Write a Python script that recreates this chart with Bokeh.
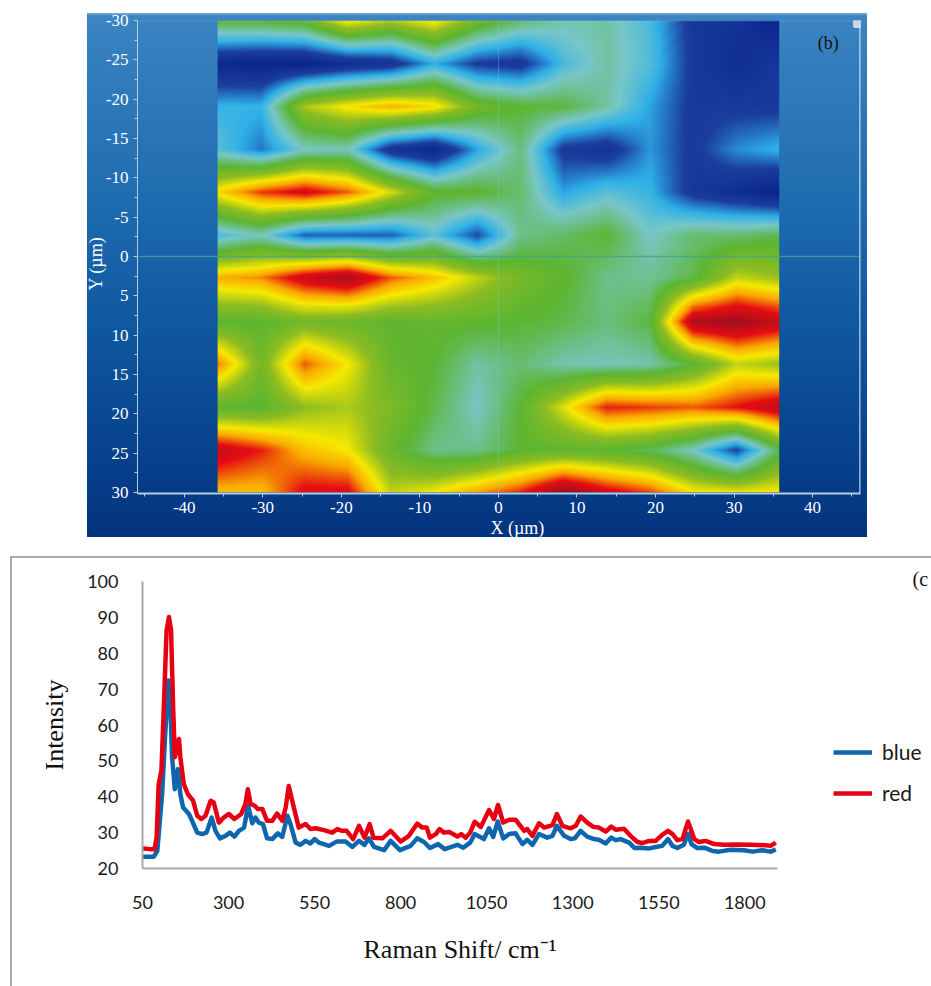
import numpy as np
from bokeh.embed import file_html
from bokeh.models import FixedTicker, Label, Legend, LegendItem, LinearColorMapper, Range1d, Span, Title
from bokeh.plotting import figure
from bokeh.resources import INLINE

# ---------- panel (b): Raman map ----------
map_x = [-35.75, -30.25, -24.75, -19.25, -13.75, -8.25, -2.75, 2.75, 8.25, 13.75, 19.25, 24.75, 30.25, 35.75]
map_y = [-30, -24.55, -19.1, -13.6, -8.2, -2.7, 2.7, 8.2, 13.6, 19.1, 24.55, 30]
map_rows = [
    [4.5, 4.5, 4.8, 6.6, 5.8, 6.6, 5.0, 4.0, 3.5, 3.6, 2.8, 1.2, 0.9, 0.2],
    [0.4, 0.3, 0.2, 0.7, 1.0, 2.5, 1.4, 1.2, 2.8, 3.6, 2.9, 1.3, 0.7, 1.2],
    [2.6, 2.6, 5.8, 6.6, 7.2, 6.7, 5.0, 4.5, 4.4, 3.6, 2.4, 1.3, 1.3, 1.3],
    [3.0, 2.0, 3.3, 3.4, 1.0, 0.4, 2.4, 3.9, 1.3, 1.0, 2.3, 1.3, 2.2, 2.6],
    [6.7, 8.0, 8.6, 7.8, 6.2, 4.6, 4.6, 4.0, 2.4, 3.0, 2.6, 1.2, 0.7, 0.1],
    [2.8, 3.4, 1.8, 1.8, 1.8, 3.0, 1.6, 3.8, 4.1, 4.5, 3.3, 4.0, 4.0, 4.3],
    [7.2, 7.5, 8.8, 9.4, 7.8, 7.0, 6.0, 5.0, 4.6, 3.8, 3.7, 4.3, 6.0, 5.6],
    [4.5, 4.5, 5.0, 4.8, 4.6, 4.7, 4.6, 4.5, 4.3, 3.9, 4.4, 9.3, 9.6, 8.9],
    [7.6, 5.0, 7.8, 6.5, 4.7, 4.5, 3.6, 4.0, 3.5, 3.4, 3.5, 4.5, 6.0, 5.6],
    [4.5, 4.5, 5.5, 5.8, 5.2, 4.3, 3.3, 4.5, 6.3, 8.2, 8.0, 7.8, 8.3, 9.0],
    [8.9, 8.2, 7.0, 6.5, 4.8, 3.8, 3.8, 4.5, 4.6, 4.5, 4.2, 3.3, 1.5, 4.3],
    [7.0, 7.0, 8.5, 8.5, 6.0, 6.5, 7.4, 8.2, 9.8, 8.7, 8.0, 6.6, 6.5, 6.6],
]
map_levels = [0, 1.5, 2.5, 3.3, 4.5, 5.5, 6.5, 7.3, 8.3, 10]
map_colors = ["#08218a", "#1b3e9e", "#2fb0e8", "#78c7c8", "#5cb531", "#8cbc22", "#f6e900", "#f9a800", "#e60d12", "#8a0f24"]
b_x_ticks = [-40, -30, -20, -10, 0, 10, 20, 30, 40]
b_x_minor = [-45, -35, -25, -15, -5, 5, 15, 25, 35, 45]
b_y_ticks = [-30, -25, -20, -15, -10, -5, 0, 5, 10, 15, 20, 25, 30]
b_y_minor = [-27.5, -22.5, -17.5, -12.5, -7.5, -2.5, 2.5, 7.5, 12.5, 17.5, 22.5, 27.5]

# ---------- panel (c): spectra ----------
red_x = [51, 73, 85, 91, 97, 105, 112, 120, 127, 133, 139, 144, 156, 160, 170, 182, 197, 209, 221, 233, 248, 257, 272, 286, 301, 317, 337, 349, 356, 364, 376, 385, 398, 412, 427, 441, 456, 466, 475, 485, 504, 524, 538, 553, 577, 601, 616, 630, 643, 662, 679,
         695, 710, 721, 747, 771, 800, 824, 848, 863, 876, 885, 902, 913, 926, 941, 965, 976, 989, 1002, 1015, 1033, 1057, 1071, 1083, 1098, 1115, 1134, 1159, 1168, 1183, 1202, 1217, 1241, 1254, 1270, 1294,
         1309, 1323, 1342, 1360, 1376, 1396, 1412, 1425, 1449, 1468, 1488, 1502, 1522, 1541, 1560, 1577, 1590, 1604, 1619, 1628, 1635, 1643, 1653, 1667, 1686, 1711, 1740, 1778, 1817, 1861, 1875, 1890]
red_y = [25.6, 25.4, 25.4, 28.6, 43.5, 47.3, 65, 86.4, 90.1, 86.4, 65, 51, 56.1, 51, 43.5, 40.7, 38.9, 34.7, 33.8, 34.7, 38.9, 38.4, 32.8, 34.2, 35.2, 33.8, 35.2, 38, 42.1, 38, 37.5, 36.6, 36.6, 33.3, 33.3, 35.3, 33.3, 37, 43, 38.9, 31.4, 32.4, 31, 31.2, 30.7, 30, 31, 30.5, 30.5, 28.2, 31.9,
         28.6, 32.4, 28.6, 28.4, 30.5, 27.5, 29.1, 32.5, 31.4, 31.4, 28.6, 29.6, 31, 30, 30.2, 28.9, 29.6, 28.6, 30, 33, 31.6, 36.3, 33.8, 37.7, 32.8, 33.6, 33.6, 30.5, 31, 29.1, 32.6, 31.4, 32.1, 35.2, 31.9, 31.2,
         31.9, 34.5, 32.8, 31.6, 31.4, 30.3, 31.7, 30.8, 31.1, 29.1, 27.4, 27.1, 27.7, 27.7, 29.4, 30.5, 29.6, 27.9, 28.2, 31, 33.1, 31, 28.2, 27.4, 27.7, 26.8, 26.6, 26.7, 26.6, 26.5, 26.3, 27.2]
blue_x = [51, 83, 93, 107, 115, 125, 131, 136, 144, 153, 160, 168, 185, 194, 209, 223, 236, 251, 262, 275, 291, 304, 317, 330, 345, 357, 369, 378, 388, 400, 412, 427, 443, 456, 471, 480, 495, 509, 524, 538, 550, 563, 592, 614, 640, 660, 679,
          695, 708, 723, 752, 771, 798, 829, 848, 868, 885, 909, 928, 965, 982, 1002, 1015, 1042, 1057, 1069, 1082, 1098, 1115, 1134, 1154, 1168, 1183, 1202, 1226, 1241, 1254, 1275, 1294,
          1306, 1323, 1342, 1362, 1376, 1396, 1412, 1425, 1439, 1464, 1480, 1497, 1522, 1541, 1560, 1577, 1590, 1604, 1623, 1635, 1645, 1662, 1682, 1706, 1725, 1759, 1798, 1822, 1851, 1875, 1890]
blue_y = [23.3, 23.3, 24.9, 40.7, 55.7, 72.4, 65, 51, 42.1, 47.7, 40.7, 37, 35.2, 33.3, 30, 29.6, 30, 34.2, 30.5, 28.4, 29.1, 30, 28.9, 30.5, 31.4, 37.5, 32.6, 34.2, 32.8, 32.4, 28.4, 28.2, 29.8, 28.8, 34.7, 32.4, 27.2, 26.6, 27.7, 27, 28.2, 27.2, 26.3, 27.5, 27.5, 26, 27.7,
          26.6, 28.4, 26, 25.1, 27.7, 25.1, 26.3, 28.4, 27.4, 25.7, 26.8, 25.4, 26.6, 25.8, 27.2, 29.6, 28.2, 31.2, 28.8, 33.1, 28.4, 29.6, 29.8, 26.8, 28, 26.6, 29.6, 28.6, 29.1, 31.9, 29.1, 28.2,
          28.4, 30.5, 28.9, 28.2, 28, 27, 28.6, 27.9, 28.2, 27.2, 25.7, 25.8, 25.6, 26, 26.3, 28.2, 26.3, 25.7, 26.6, 29.7, 26.8, 25.7, 25.8, 24.9, 24.7, 25.2, 25.1, 24.7, 25.1, 24.7, 25.3]
c_x_ticks = [50, 300, 550, 800, 1050, 1300, 1550, 1800]
c_y_ticks = [20, 30, 40, 50, 60, 70, 80, 90, 100]

SERIF = "Liberation Serif"
AXIS = "#b4cde0"

# Resample the map grid to screen resolution (the instrument's own display is smoothed the same way)
fine_x = np.linspace(map_x[0], map_x[-1], 562)
fine_y = np.linspace(map_y[0], map_y[-1], 471)
grid = np.array(map_rows, dtype=float)
by_col = np.array([np.interp(fine_x, map_x, row) for row in grid])
Z = np.array([np.interp(fine_y, map_y, by_col[:, i]) for i in range(len(fine_x))]).T

stops = np.linspace(0, 10, 256)
rgb = np.array([[int(c[i:i + 2], 16) for i in (1, 3, 5)] for c in map_colors], dtype=float)
palette = ["#%02x%02x%02x" % tuple(int(round(np.interp(s, map_levels, rgb[:, k]))) for k in range(3)) for s in stops]

pb = figure(width=780, height=530, output_backend="svg", toolbar_location=None,
            x_range=Range1d(-45.95, 46.1), y_range=Range1d(30.15, -30.0),
            min_border_left=50, min_border_right=7, min_border_top=13, min_border_bottom=44,
            background_fill_color=None, border_fill_color=None, outline_line_color=None)
pb.margin = (7, 0, 0, 87)
pb.styles = {"background": "linear-gradient(180deg,#7fb0d6 0,#3c84c2 3px,#1f6cb0 35%,#0f57a0 60%,#03337f 100%) 0 6px/100% 524px no-repeat"}
pb.grid.visible = False
pb.image(image=[Z], x=map_x[0], y=map_y[0], dw=map_x[-1] - map_x[0], dh=map_y[-1] - map_y[0],
         color_mapper=LinearColorMapper(palette=palette, low=0, high=10))
pb.add_layout(Span(location=0, dimension="width", line_color="#3fa58e", line_width=1.5, line_alpha=0.8))
pb.add_layout(Span(location=0, dimension="height", line_color="#6fd0e8", line_width=1, line_alpha=0.35))
pb.add_layout(Span(location=-29.95, dimension="width", line_color=AXIS, line_width=1, line_alpha=0.3))
pb.add_layout(Span(location=46.05, dimension="height", line_color="#dbe8f0", line_width=1.5))
pb.scatter(x=[45.7], y=[-29.6], marker="square", size=7, fill_color="#c9d3dc", line_color="#f4f6f8", line_width=1)

for ax, major, minor in ((pb.xaxis, b_x_ticks, b_x_minor), (pb.yaxis, b_y_ticks, b_y_minor)):
    ax.ticker = FixedTicker(ticks=major, minor_ticks=minor)
    ax.major_label_overrides = {t: str(t) for t in major}
    ax.major_label_text_color = "#ffffff"
    ax.major_label_text_font = SERIF
    ax.major_label_text_font_size = "17px"
    ax.axis_line_color = AXIS
    ax.major_tick_line_color = AXIS
    ax.minor_tick_line_color = AXIS
    ax.major_tick_in = 0
    ax.major_tick_out = 4
    ax.minor_tick_in = 0
    ax.minor_tick_out = 3
pb.xaxis.axis_line_width = 2
pb.xaxis.major_label_standoff = 4
pb.yaxis.major_label_standoff = 5

pb.add_layout(Title(text="X (µm)", align="left", offset=353, standoff=0, text_color="#ffffff", text_font=SERIF,
                    text_font_size="18px", text_font_style="normal"), "below")
pb.add_layout(Title(text="Y (µm)", align="left", offset=203, standoff=-7, text_color="#ffffff", text_font=SERIF,
                    text_font_size="18px", text_font_style="normal"), "left")
pb.add_layout(Label(x=42, y=-27.2, text="(b)", text_color="#111111", text_font=SERIF, text_font_size="18px",
                    text_align="center", text_baseline="middle"))

pc = figure(frame_width=635, frame_height=287, output_backend="svg", toolbar_location=None,
            x_range=Range1d(50, 1895), y_range=Range1d(20, 100),
            min_border_left=142, min_border_right=154, min_border_top=25, min_border_bottom=118,
            background_fill_color=None, border_fill_color=None, outline_line_color=None)
pc.margin = (19, 0, 0, 0)
pc.styles = {"background": "linear-gradient(#aaaaaa,#aaaaaa) 10px 0/2px 100% no-repeat,"
                           "linear-gradient(#aaaaaa,#aaaaaa) 10px 0/100% 2px no-repeat,#ffffff"}
pc.grid.visible = False
line_blue = pc.line(blue_x, blue_y, line_color="#0e66ae", line_width=4.5, line_join="round")
line_red = pc.line(red_x, red_y, line_color="#e60012", line_width=4.5, line_join="round")

pc.xaxis.ticker = FixedTicker(ticks=c_x_ticks)
pc.yaxis.ticker = FixedTicker(ticks=c_y_ticks)
for ax in (pc.xaxis, pc.yaxis):
    ax.axis_line_color = "#aaaaaa"
    ax.axis_line_width = 2
    ax.major_tick_line_color = None
    ax.minor_tick_line_color = None
    ax.major_label_text_font = "Lato"
    ax.major_label_text_font_size = "18px"
    ax.major_label_text_color = "#1a1a1a"
    ax.axis_label_text_font = SERIF
    ax.axis_label_text_font_style = "normal"
    ax.axis_label_text_color = "#111111"
    ax.axis_label_text_font_size = "26px"
pc.xaxis.axis_label = "Raman Shift/ cm\u207b\u00b9"
pc.yaxis.axis_label = "Intensity"
pc.xaxis.major_label_standoff = 21
pc.yaxis.major_label_standoff = 18
pc.xaxis.axis_label_standoff = 23
pc.yaxis.axis_label_standoff = 15

legend = Legend(items=[LegendItem(label="blue", renderers=[line_blue]), LegendItem(label="red", renderers=[line_red])],
                location=(56, 63), margin=0, padding=0, spacing=16, glyph_width=39, glyph_height=20, label_height=20,
                label_standoff=10, border_line_color=None, background_fill_color=None,
                label_text_font="Lato", label_text_font_size="21px", label_text_color="#1a1a1a")
pc.add_layout(legend, "right")
pc.add_layout(Title(text="(c", align="left", offset=770, standoff=-16, text_color="#111111", text_font=SERIF,
                    text_font_size="20px", text_font_style="normal"), "above")

open("out.html", "w").write(file_html([pb, pc], INLINE))
